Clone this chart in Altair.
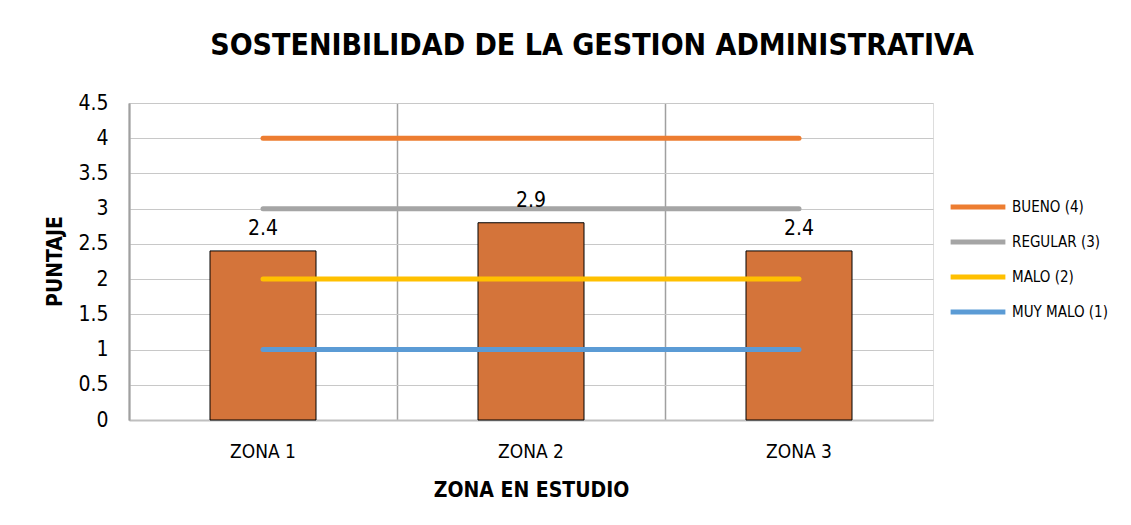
import altair as alt
import pandas as pd

zonas = ["ZONA 1", "ZONA 2", "ZONA 3"]
puntaje = [2.4, 2.8, 2.4]
etiquetas = ["2.4", "2.9", "2.4"]

niveles = ["BUENO (4)", "REGULAR (3)", "MALO (2)", "MUY MALO (1)"]
nivel_valor = [4, 3, 2, 1]
nivel_color = ["#ED7D31", "#A5A5A5", "#FFC000", "#5B9BD5"]

y_ticks = [0, 0.5, 1, 1.5, 2, 2.5, 3, 3.5, 4, 4.5]

FONT = "DejaVu Sans Condensed, Liberation Sans Narrow, sans-serif"

bars_df = pd.DataFrame({"zona": zonas, "puntaje": puntaje, "etiqueta": etiquetas})
lines_df = pd.DataFrame(
    [{"zona": z, "nivel": n, "valor": v} for n, v in zip(niveles, nivel_valor) for z in zonas]
)

x_scale = alt.Scale(domain=zonas, paddingInner=0, paddingOuter=0)
y_scale = alt.Scale(domain=[0, 4.5], nice=False)

x_axis = alt.Axis(
    title="ZONA EN ESTUDIO",
    labelAngle=0,
    labelFontSize=19,
    labelFont=FONT,
    labelColor="#000000",
    labelPadding=22,
    ticks=False,
    grid=True,
    bandPosition=0,
    gridColor="#A0A0A0",
    gridWidth=1.5,
    domainColor="#BFBFBF",
    domainWidth=2,
    titleFontSize=21,
    titleFont=FONT,
    titleFontWeight="bold",
    titleColor="#000000",
    titleY=70,
    titleBaseline="middle",
)

y_axis = alt.Axis(
    title="PUNTAJE",
    values=y_ticks,
    format="~g",
    labelOverlap=False,
    labelFontSize=21,
    labelFont=FONT,
    labelColor="#000000",
    labelPadding=21,
    ticks=False,
    grid=True,
    gridColor="#C8C8C8",
    gridWidth=1,
    domainColor="#A0A0A0",
    domainWidth=2,
    titleFontSize=21,
    titleFont=FONT,
    titleFontWeight="bold",
    titleColor="#000000",
    titleX=-74,
    titleY=158,
    titleAngle=-90,
    titleBaseline="middle",
    titleAlign="center",
)

def xe():
    return alt.X("zona:N", scale=x_scale, sort=zonas, axis=x_axis)

bars = alt.Chart(bars_df).mark_bar(
    fill="#D4743A", stroke="#000000", strokeWidth=1, width=106
).encode(
    x=xe(),
    y=alt.Y("puntaje:Q", scale=y_scale, axis=y_axis),
)

text = alt.Chart(bars_df).mark_text(
    baseline="bottom", dy=-12, fontSize=21, font=FONT, color="#000000"
).encode(
    x=xe(),
    y=alt.Y("puntaje:Q", scale=y_scale, axis=y_axis),
    text="etiqueta:N",
)

lines = alt.Chart(lines_df).mark_line(strokeWidth=5, strokeCap="round").encode(
    x=xe(),
    y=alt.Y("valor:Q", scale=y_scale, axis=y_axis),
    color=alt.Color(
        "nivel:N",
        scale=alt.Scale(domain=niveles, range=nivel_color),
        legend=alt.Legend(
            title=None,
            orient="none",
            legendX=819,
            legendY=96,
            symbolType="stroke",
            symbolSize=3000,
            symbolStrokeWidth=5,
            clipHeight=16,
            rowPadding=19,
            labelFontSize=15,
            labelFont=FONT,
            labelColor="#000000",
            labelOffset=4,
        ),
    ),
    detail="nivel:N",
)

chart = (
    alt.layer(bars, lines, text)
    .properties(
        width=804,
        height=317,
        autosize=alt.AutoSizeParams(type="none"),
        padding={"left": 121, "top": 95, "right": 190, "bottom": 90},
        title=alt.TitleParams(
            "SOSTENIBILIDAD DE LA GESTION ADMINISTRATIVA",
            fontSize=30,
            font=FONT,
            fontWeight="bold",
            color="#000000",
            anchor="middle",
            dx=61,
            offset=31,
        ),
    )
    .configure_view(stroke="#A0A0A0", strokeWidth=1.5, fill="#FFFCFA")
    .configure(background="#FFFFFF")
)

chart.save("out.html", embed_options={"renderer": "svg", "actions": False})
